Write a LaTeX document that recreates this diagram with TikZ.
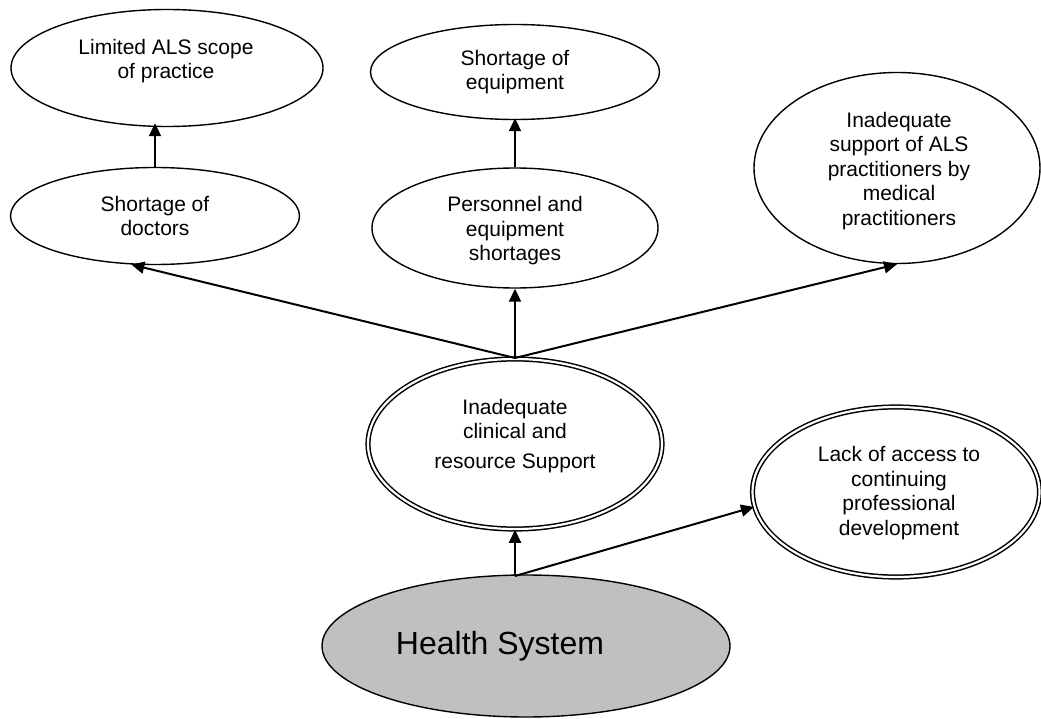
\documentclass[tikz,border=0pt]{standalone}
\usepackage{fontspec}
\setmainfont{Liberation Sans}
\usetikzlibrary{shapes.geometric,arrows.meta,calc}
\definecolor{hsgray}{HTML}{C0C0C0}
\tikzset{
  oval/.style={ellipse,draw,line width=1.4pt,inner sep=0pt},
  dbloval/.style={ellipse,draw,double,double distance=2.2pt,line width=1.5pt,inner sep=0pt},
  hsoval/.style={ellipse,draw,line width=1.4pt,inner sep=0pt,fill=hsgray},
  lbl/.style={align=center,inner sep=0pt,font=\fontsize{21}{24.5}\selectfont},
  conn/.style={line width=2pt,-{Triangle[length=13pt,width=12pt]}},
}
\begin{document}
\begin{tikzpicture}[x=1pt,y=-1pt]
\useasboundingbox (0,0) rectangle (1041,719);
% ellipses
\node[oval,minimum width=312pt,minimum height=117pt] (lim) at (167,68) {};
\node[oval,minimum width=289pt,minimum height=95pt] (equ) at (515,72) {};
\node[oval,minimum width=286pt,minimum height=191pt] (sup) at (897,168) {};
\node[oval,minimum width=289pt,minimum height=97pt] (doc) at (155,216) {};
\node[oval,minimum width=286pt,minimum height=120pt] (per) at (515,228) {};
\node[dbloval,minimum width=294pt,minimum height=170pt] (inr) at (515,444) {};
\node[dbloval,minimum width=287pt,minimum height=170pt] (lac) at (896,492) {};
\node[hsoval,minimum width=408pt,minimum height=142pt] (hs) at (526,646) {};
% texts
\node[lbl] (tlim) at (166,61) {Limited ALS scope\\of practice};
\node[lbl] (tequ) at (515,72) {Shortage of\\equipment};
\node[lbl] (tsup) at (899,171) {Inadequate\\support of ALS\\practitioners by\\medical\\practitioners};
\node[lbl] (tdoc) at (155,216) {Shortage of\\doctors};
\node[lbl] (tper) at (515,231) {Personnel and\\equipment\\shortages};
\node[lbl] (tinr) at (515,436) {Inadequate\\clinical and\\[5pt]resource Support};
\node[lbl] (tlac) at (899,493) {Lack of access to\\continuing\\professional\\development};
\node[inner sep=0pt,font=\fontsize{32}{36}\selectfont] (ths) at (500,646) {Health System};
% junction points
\coordinate (jtop) at (515,358);
\coordinate (jbot) at (515,576);
% connectors
\draw[conn] (doc.north) -- ($(doc.north |- lim.south)+(0,-4)$);
\draw[conn] (per.north) -- ($(equ.south)+(0,-2)$);
\draw[conn] (jtop) -- (doc.244);
\draw[conn] (jtop) -- (per.south);
\draw[conn] (jtop) -- (sup.south);
\draw[conn] (jbot) -- (inr.south);
\draw[conn] (jbot) -- (lac.186);
\end{tikzpicture}
\end{document}
